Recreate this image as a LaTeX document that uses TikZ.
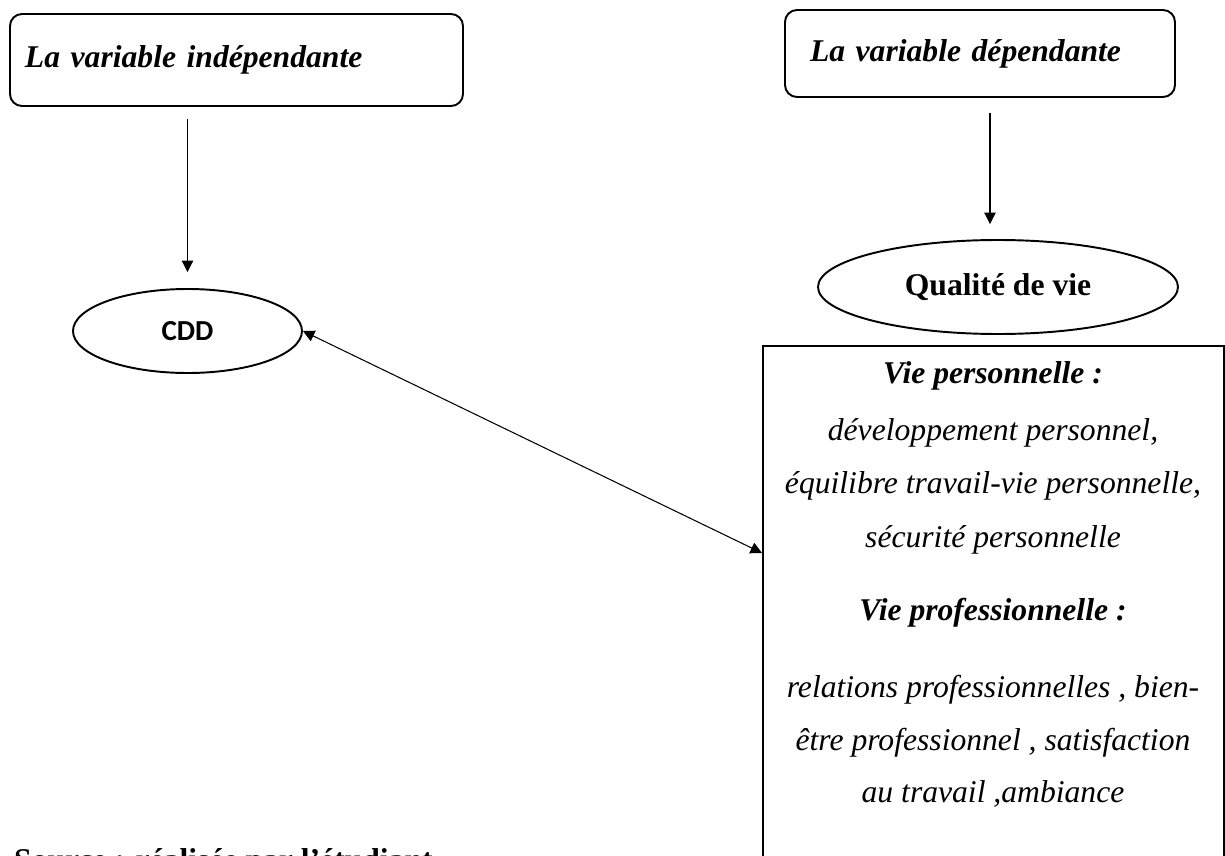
\documentclass[tikz,border=0pt]{standalone}
\usepackage{fontspec}
\setmainfont{Liberation Serif}
\newfontfamily\cddfont{Carlito}
\usepackage{tikz}
\usetikzlibrary{arrows.meta, calc, shapes.geometric}

\begin{document}
\begin{tikzpicture}[
    varbox/.style={draw, line width=1.1pt, rounded corners=0.24cm, font=\bfseries\itshape\fontsize{18}{22}\selectfont},
    ovale/.style={draw, ellipse, line width=1.1pt, inner sep=0pt},
    fleche/.style={line width=0.6pt, -{Triangle[length=6.5pt,width=6.5pt]}},
    titre/.style={anchor=base, font=\bfseries\itshape\fontsize{18}{22}\selectfont},
    ligne/.style={anchor=base, font=\itshape\fontsize{18}{22}\selectfont}
  ]
  \useasboundingbox (0,0) rectangle (24.5,-17.12);
  % the two variables
  \node[varbox, minimum width=9.06cm, minimum height=1.84cm, text width=8.46cm, inner xsep=0.3cm, align=left] (indep) at (4.73,-1.2) {La variable indépendante};
  \node[varbox, minimum width=7.8cm, minimum height=1.74cm, text width=6.8cm, inner xsep=0.5cm, align=left] (dep) at (19.6,-1.07) {La variable dépendante};
  % ellipses
  \node[ovale, minimum width=4.58cm, minimum height=1.68cm, font=\cddfont\bfseries\fontsize{16.5}{19}\selectfont] (cdd) at (3.75,-6.62) {CDD};
  \node[ovale, minimum width=7.2cm, minimum height=1.88cm, font=\bfseries\fontsize{18}{22}\selectfont] (qualite) at (19.96,-5.74) {Qualité de vie};
  \draw[fleche, shorten <=0.24cm, shorten >=0.32cm] (cdd |- indep.south) -- (cdd.north);
  \draw[fleche, shorten <=0.3cm, shorten >=0.3cm] ([xshift=-0.16cm]qualite |- dep.south) -- ([xshift=-0.16cm]qualite.north);
  % big box, cut by the page
  \node[draw, line width=1.1pt, anchor=north west, minimum width=9.22cm, minimum height=10.6cm, inner sep=0pt] (bloc) at (15.24,-6.9) {};
  \node[titre] (vp) at (19.86,-7.66) {Vie personnelle :};
  \node[ligne] (vp1) at (19.86,-8.8) {développement personnel,};
  \node[ligne] (vp2) at (19.86,-9.86) {équilibre travail-vie personnelle,};
  \node[ligne] (vp3) at (19.86,-10.94) {sécurité personnelle};
  \node[titre] (vpro) at (19.86,-12.4) {Vie professionnelle :};
  \node[ligne] (vpro1) at (19.86,-13.94) {relations professionnelles , bien-};
  \node[ligne] (vpro2) at (19.86,-15.0) {être professionnel , satisfaction};
  \node[ligne] (vpro3) at (19.86,-16.04) {au travail ,ambiance};
  % link between CDD and the box
  \draw[line width=0.6pt, {Triangle[length=6.5pt,width=6.5pt]}-{Triangle[length=6.5pt,width=6.5pt]}] (cdd.east) -- ([yshift=-4.16cm]bloc.north west);
  \node[anchor=base west, font=\bfseries\fontsize{18}{22}\selectfont] (source) at (0.16,-17.4) {Source : réalisée par l'étudiant};
\end{tikzpicture}
\end{document}
